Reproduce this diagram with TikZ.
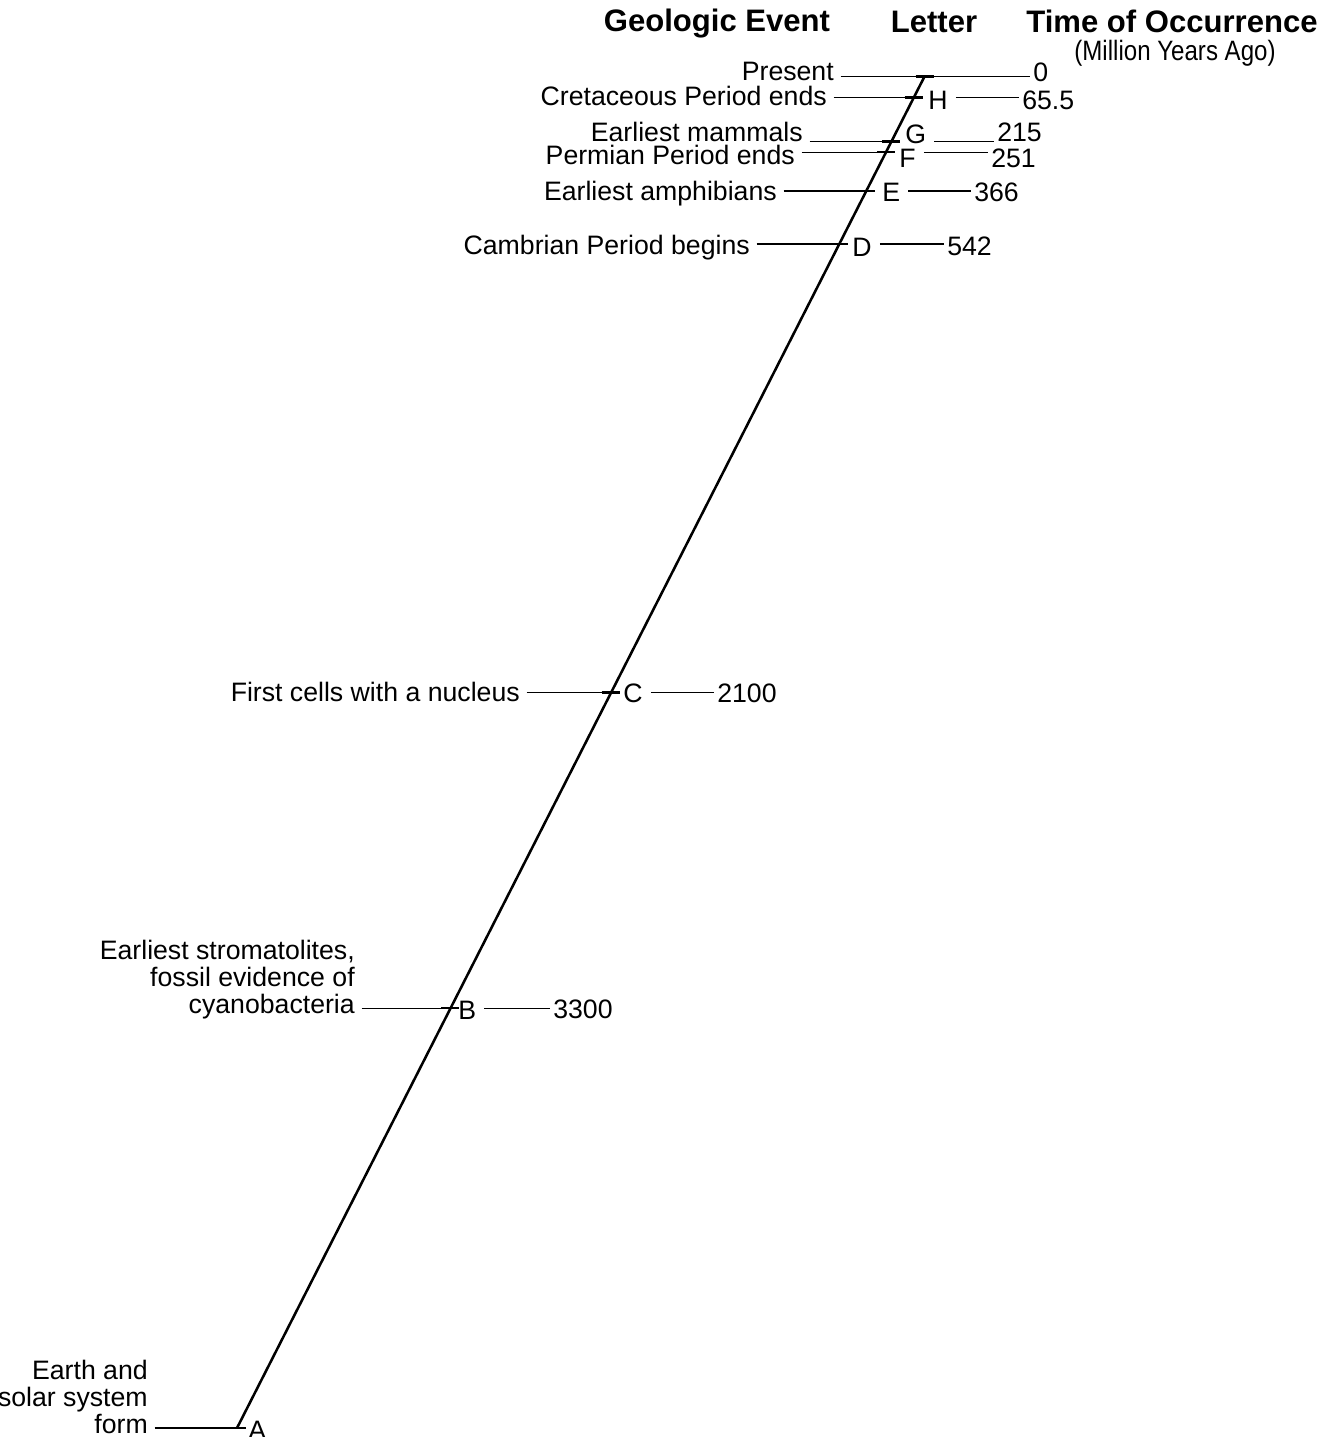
\documentclass[tikz,border=0pt]{standalone}
\usepackage{fontspec}
\setmainfont{Liberation Sans}
\newfontfamily\narrowfont[FakeStretch=0.86]{Liberation Sans}

\begin{document}
\begin{tikzpicture}[x=0.75pt,y=0.75pt,yscale=-1,xscale=1,
	evt/.style={anchor=base east,inner sep=0pt,align=right,font=\fontsize{20}{20}\selectfont},
	ltr/.style={anchor=base west,inner sep=0pt,font=\fontsize{20}{20}\selectfont},
	num/.style={anchor=base west,inner sep=0pt,font=\fontsize{20}{20}\selectfont},
	ttl/.style={anchor=base,inner sep=0pt,font=\fontsize{23.3}{23.3}\selectfont\bfseries},
	timeline/.style={line width=1.9pt},
	tickmark/.style={line width=1.7pt},
	leftlead/.style={line width=1pt,shorten <=5pt},
	rightlead/.style={line width=1pt,shorten <=6pt,shorten >=2pt}]
	\useasboundingbox (0,0) rectangle (1328,1437);
	
	%Points on the time line
	\coordinate (pP) at (924.5,76.5);
	\coordinate (pH) at (913.5,97.5);
	\coordinate (pG) at (891,141.5);
	\coordinate (pF) at (886,152.3);
	\coordinate (pE) at (866,191);
	\coordinate (pD) at (839,244);
	\coordinate (pC) at (610.5,692.5);
	\coordinate (pB) at (450,1008.3);
	\coordinate (pA) at (237,1428);
	
	% Text Node
	\draw (717,32) node (tEvent) [ttl] {Geologic Event};
	% Text Node
	\draw (934,33) node (tLetter) [ttl] {Letter};
	% Text Node
	\draw (1172,33) node (tTime) [ttl] {Time of Occurrence};
	% Text Node
	\draw (1175,61) node (tUnit) [anchor=base,inner sep=0pt,font=\fontsize{21}{21}\narrowfont] {(Million Years Ago)};
	
	% Text Node
	\draw (834,81) node (evP) [evt] {Present};
	\draw (827,106) node (evH) [evt] {Cretaceous Period ends};
	\draw (803,142) node (evG) [evt] {Earliest mammals};
	\draw (795,165) node (evF) [evt] {Permian Period ends};
	\draw (777,201) node (evE) [evt] {Earliest amphibians};
	\draw (750,255) node (evD) [evt] {Cambrian Period begins};
	\draw (520,701) node (evC) [evt] {First cells with a nucleus};
	\draw (355,1013) node (evB) [evt] {Earliest stromatolites,\\fossil evidence of\\cyanobacteria};
	\draw (148,1433) node (evA) [evt] {Earth and\\solar system\\form};
	
	% Text Node
	\draw (928,110) node (lH) [ltr] {H};
	\draw (905,144) node (lG) [ltr] {G};
	\draw (899,168) node (lF) [ltr] {F};
	\draw (882,202) node (lE) [ltr] {E};
	\draw (852,257) node (lD) [ltr] {D};
	\draw (623,702) node (lC) [ltr] {C};
	\draw (458,1019) node (lB) [ltr] {B};
	\draw (248,1439) node (lA) [ltr] {A};
	
	% Text Node
	\draw (1033,82) node (n0) [num] {0};
	\draw (1022,110) node (nH) [num] {65.5};
	\draw (997,142) node (nG) [num] {215};
	\draw (991,168) node (nF) [num] {251};
	\draw (974,202) node (nE) [num] {366};
	\draw (947,256) node (nD) [num] {542};
	\draw (717,702) node (nC) [num] {2100};
	\draw (553,1018) node (nB) [num] {3300};
	
	%Straight Lines
	\draw [timeline] (pA) -- (pP);
	
	%Straight Lines
	\draw [line width=1pt,shorten <=5pt,shorten >=2pt] (evP.east |- pP) -- (n0.west |- pP);
	\foreach \k in {H,G,F,E,D,C,B,A}
		\draw [leftlead] (ev\k.east |- p\k) -- (p\k);
	\foreach \k in {H,G,F,E,D,C,B}
		\draw [rightlead] (l\k.east |- p\k) -- (n\k.west |- p\k);
	
	%Ticks
	\foreach \k in {P,H,G,F,E,D,C,B,A}
		\draw [tickmark] (p\k) +(-9,0) -- +(9,0);
	
\end{tikzpicture}
\end{document}
